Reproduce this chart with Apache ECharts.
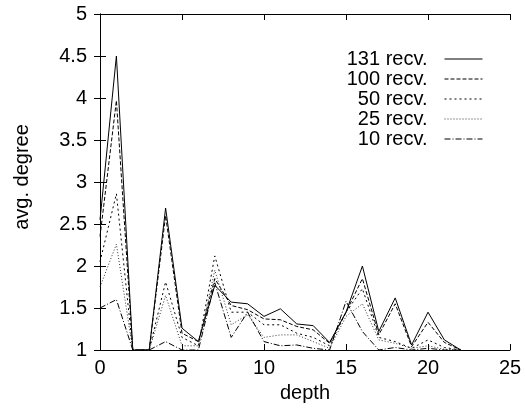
<!DOCTYPE html>
<html>
<head>
<meta charset="utf-8">
<script src="https://cdn.jsdelivr.net/npm/echarts@6/dist/echarts.min.js"></script>
<style>
  html, body { margin: 0; padding: 0; background: #fff; }
  #chart { width: 525px; height: 410px; }
</style>
</head>
<body>
<div id="chart"></div>
<script>
var depths = [0, 1, 2, 3, 4, 5, 6, 7, 8, 9, 10, 11, 12, 13, 14, 15, 16, 17, 18, 19, 20, 21, 22];
var recv131 = [2.55, 4.5, 1, 1, 2.69, 1.26, 1.1, 1.77, 1.57, 1.55, 1.4, 1.49, 1.31, 1.29, 1.09, 1.45, 2.0, 1.22, 1.62, 1.06, 1.45, 1.12, 1];
var recv100 = [2.35, 3.97, 1, 1, 2.6, 1.2, 1.1, 1.85, 1.53, 1.48, 1.37, 1.36, 1.28, 1.24, 1.08, 1.45, 1.85, 1.18, 1.55, 1.04, 1.33, 1.09, 1];
var recv50 = [2.05, 2.86, 1, 1, 1.81, 1.15, 1.05, 2.12, 1.45, 1.45, 1.3, 1.3, 1.2, 1.15, 1.05, 1.45, 1.73, 1.15, 1.1, 1.02, 1.12, 1.03, 1];
var recv25 = [1.75, 2.26, 1, 1, 1.65, 1.05, 1.05, 1.95, 1.3, 1.42, 1.15, 1.18, 1.18, 1.1, 1.02, 1.4, 1.55, 1.12, 1.08, 1.02, 1.05, 1.01, 1];
var recv10 = [1.5, 1.6, 1, 1, 1.1, 1.0, 1.0, 1.8, 1.15, 1.45, 1.1, 1.05, 1.06, 1.02, 1.0, 1.58, 1.22, 1.0, 1.03, 1.0, 1.02, 1.0, 1];
var seriesNames = ["131 recv.", "100 recv.", "50 recv.", "25 recv.", "10 recv."];

var font = "Liberation Sans, Arial, sans-serif";

function pairs(vals) {
  return depths.map(function (d, i) { return [d, vals[i]]; });
}

function line(name, vals, dash, color) {
  return {
    name: name,
    type: "line",
    symbol: "none",
    animation: false,
    data: pairs(vals),
    itemStyle: { color: color },
    lineStyle: { color: color, width: 1, type: dash }
  };
}

var tickIn = { show: true, inside: true, length: 6, lineStyle: { color: "#000" } };

var option = {
  backgroundColor: "#fff",
  grid: { left: 100, right: 15, top: 14, bottom: 60 },
  legend: {
    right: 37,
    top: 44,
    orient: "vertical",
    align: "right",
    itemWidth: 38,
    itemHeight: 10,
    itemGap: 0,
    itemStyle: { opacity: 0 },
    lineStyle: { width: 1 },
    textStyle: { fontFamily: font, fontSize: 20, lineHeight: 20, color: "#000", padding: [0, 12, 0, 0] },
    data: seriesNames
  },
  xAxis: [{
    type: "value",
    min: 0, max: 25, interval: 5,
    name: "depth",
    nameLocation: "middle",
    nameGap: 33,
    nameTextStyle: { fontFamily: font, fontSize: 20, color: "#000" },
    axisLine: { show: true, lineStyle: { color: "#000", width: 1 } },
    axisTick: tickIn,
    axisLabel: { fontFamily: font, fontSize: 20, color: "#000", margin: 8 },
    splitLine: { show: false }
  }, {
    type: "value",
    position: "top",
    min: 0, max: 25, interval: 5,
    axisLine: { show: true, lineStyle: { color: "#000", width: 1 } },
    axisTick: tickIn,
    axisLabel: { show: false },
    splitLine: { show: false }
  }],
  yAxis: [{
    type: "value",
    min: 1, max: 5, interval: 0.5,
    name: "avg. degree",
    nameLocation: "middle",
    nameGap: 68,
    nameTextStyle: { fontFamily: font, fontSize: 20, color: "#000", padding: [0, 0, 0, 10] },
    axisLine: { show: true, lineStyle: { color: "#000", width: 1 } },
    axisTick: tickIn,
    axisLabel: { fontFamily: font, fontSize: 20, color: "#000", margin: 13 },
    splitLine: { show: false }
  }, {
    type: "value",
    position: "right",
    min: 1, max: 5, interval: 0.5,
    axisLine: { show: true, lineStyle: { color: "#000", width: 1 } },
    axisTick: tickIn,
    axisLabel: { show: false },
    splitLine: { show: false }
  }],
  series: [
    line(seriesNames[0], recv131, "solid", "#000"),
    line(seriesNames[1], recv100, [4, 2], "#000"),
    line(seriesNames[2], recv50, [2, 3], "#000"),
    line(seriesNames[3], recv25, [1, 2], "#333"),
    line(seriesNames[4], recv10, [6, 2, 1, 2], "#000")
  ]
};

var myChart = echarts.init(document.getElementById("chart"));
myChart.setOption(option);
</script>
</body>
</html>
